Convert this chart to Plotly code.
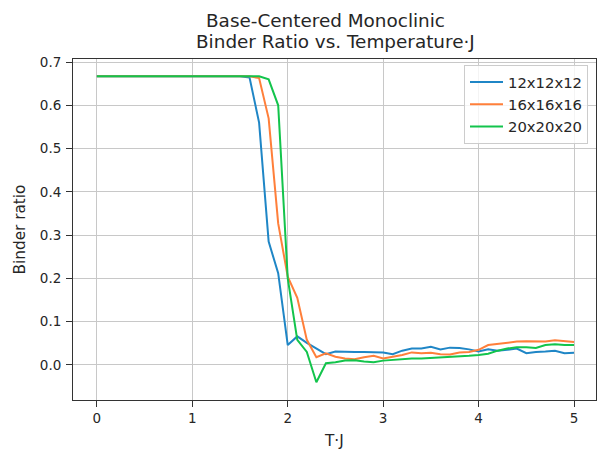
import numpy as np
import plotly.graph_objects as go

# Temperature grid T·J (0.0 .. 5.0, step 0.1)
temps = np.round(np.linspace(0.0, 5.0, 51), 1)

series_names = ["12x12x12", "16x16x16", "20x20x20"]

binder_12 = [0.667] * 16 + [
    0.664, 0.560, 0.285, 0.212, 0.046, 0.066, 0.051, 0.037, 0.025, 0.031,
    0.030, 0.030, 0.030, 0.029, 0.029, 0.025, 0.033, 0.038, 0.038, 0.042,
    0.036, 0.040, 0.039, 0.036, 0.031, 0.036, 0.033, 0.035, 0.038, 0.027,
    0.030, 0.031, 0.033, 0.027, 0.028,
]

binder_16 = [0.667] * 17 + [
    0.663, 0.570, 0.327, 0.204, 0.155, 0.058, 0.018, 0.027, 0.019, 0.015,
    0.013, 0.018, 0.021, 0.015, 0.019, 0.023, 0.029, 0.027, 0.028, 0.025,
    0.024, 0.029, 0.030, 0.035, 0.046, 0.049, 0.052, 0.054, 0.055, 0.054,
    0.054, 0.057, 0.055, 0.053,
]

binder_20 = [0.667] * 18 + [
    0.660, 0.600, 0.200, 0.058, 0.030, -0.040, 0.004, 0.006, 0.010, 0.011,
    0.008, 0.006, 0.010, 0.012, 0.013, 0.015, 0.015, 0.016, 0.017, 0.018,
    0.019, 0.021, 0.023, 0.026, 0.033, 0.038, 0.041, 0.041, 0.039, 0.046,
    0.048, 0.046, 0.046,
]

colors = ["#1f86c6", "#ff7f3a", "#13c44c"]
values = [binder_12, binder_16, binder_20]

x_ticks = [0, 1, 2, 3, 4, 5]
y_ticks = [0.0, 0.1, 0.2, 0.3, 0.4, 0.5, 0.6, 0.7]

FONT = "DejaVu Sans"
TXT = "#262626"

fig = go.Figure()
for name, vals, col in zip(series_names, values, colors):
    fig.add_trace(go.Scatter(
        x=temps, y=vals, mode="lines", name=name,
        line=dict(color=col, width=2),
    ))

W, H = 597, 449
L, R, T, B = 73, 1, 59, 49
pw = W - L - R
ph = H - T - B

def px2paper_x(px):
    return (px - L) / pw

def py2paper_y(py):
    return 1 - (py - T) / ph

fig.update_layout(
    width=W, height=H,
    margin=dict(l=L, r=R, t=T, b=B, pad=0),
    paper_bgcolor="white", plot_bgcolor="white",
    font=dict(family=FONT, size=13, color=TXT),
    showlegend=True,
    legend=dict(
        x=px2paper_x(588), y=py2paper_y(65), xanchor="right", yanchor="top",
        bgcolor="rgba(255,255,255,0.8)", bordercolor="#cccccc", borderwidth=1,
        font=dict(family=FONT, size=14.8, color=TXT),
        itemwidth=33,
    ),
    xaxis=dict(
        range=[-0.25, 5.23], tickvals=x_ticks, ticktext=[str(v) for v in x_ticks],
        showgrid=True, gridcolor="#c8c8c8", gridwidth=1,
        showline=True, linecolor="#333333", linewidth=1, mirror=True,
        ticks="outside", ticklen=6, tickcolor="#333333",
        tickfont=dict(family=FONT, size=13.5, color=TXT),
        zeroline=False,
    ),
    yaxis=dict(
        range=[-0.081, 0.707], tickvals=y_ticks,
        ticktext=["%.1f" % v for v in y_ticks],
        showgrid=True, gridcolor="#c8c8c8", gridwidth=1,
        showline=True, linecolor="#333333", linewidth=1, mirror=True,
        ticks="outside", ticklen=6, tickcolor="#333333",
        tickfont=dict(family=FONT, size=13.5, color=TXT),
        ticklabelstandoff=2,
        zeroline=False,
    ),
    annotations=[
        dict(text="Base-Centered Monoclinic", x=px2paper_x(325), y=py2paper_y(20),
             xref="paper", yref="paper", xanchor="center", yanchor="middle",
             showarrow=False, font=dict(family=FONT, size=18.4, color=TXT)),
        dict(text="Binder Ratio vs. Temperature·J", x=px2paper_x(335), y=py2paper_y(41),
             xref="paper", yref="paper", xanchor="center", yanchor="middle",
             showarrow=False, font=dict(family=FONT, size=18.4, color=TXT)),
        dict(text="T·J", x=px2paper_x(334), y=py2paper_y(441),
             xref="paper", yref="paper", xanchor="center", yanchor="middle",
             showarrow=False, font=dict(family=FONT, size=15.3, color=TXT)),
        dict(text="Binder ratio", x=px2paper_x(19), y=0.5, textangle=-90,
             xref="paper", yref="paper", xanchor="center", yanchor="middle",
             showarrow=False, font=dict(family=FONT, size=15.3, color=TXT)),
    ],
)

fig.write_html("out.html")
